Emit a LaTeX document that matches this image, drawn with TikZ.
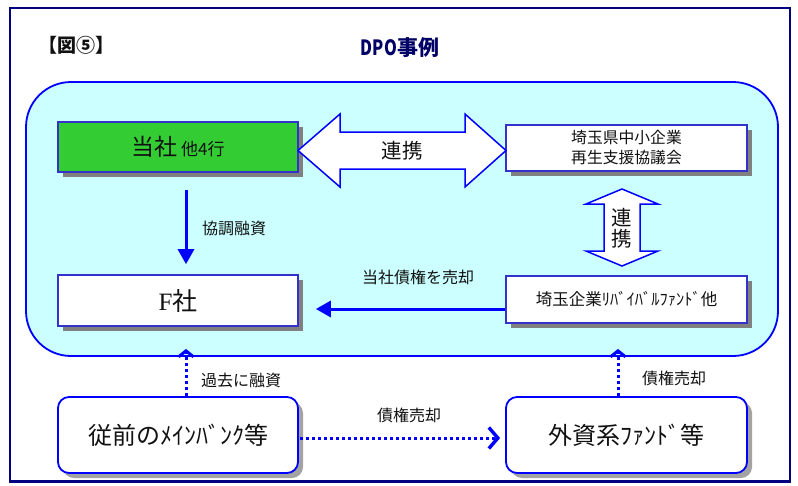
\documentclass[tikz,border=0pt]{standalone}
\usepackage{fontspec}
\setmainfont{Noto Sans CJK JP}
\newfontfamily\serifF{Liberation Serif}
\usetikzlibrary{arrows.meta,shadows}
\definecolor{navy}{HTML}{000080}
\definecolor{titlenavy}{HTML}{000066}
\definecolor{pureblue}{HTML}{0000FF}
\definecolor{boxblue}{HTML}{3333CC}
\definecolor{cyanfill}{HTML}{CCFFFF}
\definecolor{greenfill}{HTML}{33CC33}
\definecolor{txt}{HTML}{111111}
\tikzset{
  sqbox/.style={draw=boxblue, line width=1.6pt, fill=white, minimum width=240pt, inner sep=0pt, text=txt,
    drop shadow={shadow xshift=5pt, shadow yshift=-5pt, fill=black!50, opacity=1}},
  rbox/.style={draw=pureblue, line width=1.8pt, fill=white, rounded corners=11pt, minimum width=240pt, minimum height=76pt,
    inner sep=0pt, text=txt, font=\fontsize{24}{26}\selectfont,
    drop shadow={shadow xshift=5pt, shadow yshift=-5pt, fill=black!45, opacity=0.8}},
  blockarrow/.style={draw=pureblue, line width=1.5pt, fill=white, line join=miter},
  fatarrow/.style={draw=pureblue, line width=3pt, -{Triangle[length=15pt,width=16pt]}},
  dotarrow/.style={draw=pureblue, line width=3pt, dash pattern=on 3pt off 3pt},
  vhead/.style={-{Straight Barb[length=6pt,width=15pt,line width=3pt]}},
  hhead/.style={-{Straight Barb[length=9pt,width=21pt,line width=3.4pt]}},
  lbl/.style={text=txt, font=\fontsize{16}{18}\selectfont, inner sep=0pt},
}
\begin{document}
\begin{tikzpicture}[x=1pt,y=-1pt]
\useasboundingbox (0,0) rectangle (798,485);
\fill[white] (0,0) rectangle (798,485);
% outer frame
\draw[navy, line width=1.3pt] (10,8) rectangle (790,481);
\draw[navy, line width=3pt] (9.4,481) -- (790.6,481);
% title
\node[text=txt, font=\fontsize{19}{21}\selectfont\bfseries, inner sep=0pt] (fig) at (76,45) {【図⑤】};
\node[text=titlenavy, font=\fontsize{21}{23}\selectfont\bfseries, inner sep=0pt] (title) at (400,48) {\scalebox{0.78}[1]{DPO}事例};
% cyan region
\node[draw=pureblue, line width=1.8pt, fill=cyanfill, rounded corners=45pt, minimum width=752pt, minimum height=274pt, inner sep=0pt] (region) at (402,219) {};
% boxes
\node[sqbox, fill=greenfill, minimum height=50pt] (tousha) at (178,147)
  {\fontsize{23}{25}\selectfont 当社\,\fontsize{17}{19}\selectfont 他4行};
\node[sqbox, minimum height=51pt] (fsha) at (178,300.5)
  {\fontsize{25}{27}\selectfont{\serifF F}社};
\node[sqbox, minimum width=241pt, minimum height=46pt, align=center, font=\fontsize{15.8}{20}\selectfont] (kyogi) at (626.5,148)
  {埼玉県中小企業\\再生支援協議会};
\node[sqbox, minimum width=241pt, minimum height=47pt, font=\fontsize{16.5}{18}\selectfont] (fund) at (626.5,299.5)
  {埼玉企業ﾘﾊﾞｲﾊﾞﾙﾌｧﾝﾄﾞ他};
\node[rbox] (juzen) at (178,435) {従前のﾒｲﾝﾊﾞﾝｸ等};
\node[rbox, minimum width=241pt] (gaishi) at (626.5,435) {外資系ﾌｧﾝﾄﾞ等};
% horizontal block double arrow
\draw[blockarrow] (298,150.5) -- (340,114) -- (340,132) -- (465,132) -- (465,114) -- (506,150.5)
  -- (465,187) -- (465,169) -- (340,169) -- (340,187) -- cycle;
\node[text=txt, font=\fontsize{20.5}{22}\selectfont, inner sep=0pt] (renkei1) at (402,151) {連携};
% vertical block double arrow
\draw[blockarrow] (622,189) -- (658,204) -- (640,204) -- (640,251) -- (658,251) -- (622,266)
  -- (586,251) -- (604,251) -- (604,204) -- (586,204) -- cycle;
\node[text=txt, font=\fontsize{20.5}{22}\selectfont, inner sep=0pt, align=center] (renkei2) at (622,228) {連\\[-1pt]携};
% solid arrows
\draw[fatarrow] ([xshift=8pt,yshift=-17pt]tousha.south) -- ([xshift=8pt,yshift=10pt]fsha.north);
\node[lbl] (l1) at (234,228) {協調融資};
\draw[fatarrow] ([yshift=-9.5pt]fund.west) -- ([xshift=17pt,yshift=-8.5pt]fsha.east);
\node[lbl] (l2) at (418,277) {当社債権を売却};
% dotted arrows
\draw[dotarrow] ([xshift=8pt]juzen.north) -- ([xshift=8pt,yshift=5pt]juzen.north |- region.south);
\draw[vhead, draw=pureblue] ([xshift=8pt,yshift=5pt]juzen.north |- region.south) -- ([xshift=8pt,yshift=8pt]juzen.north |- region.south);
\node[lbl] (l3) at (241,380) {過去に融資};
\draw[dotarrow] ([xshift=-8.5pt]gaishi.north) -- ([xshift=-8.5pt,yshift=5pt]gaishi.north |- region.south);
\draw[vhead, draw=pureblue] ([xshift=-8.5pt,yshift=5pt]gaishi.north |- region.south) -- ([xshift=-8.5pt,yshift=8pt]gaishi.north |- region.south);
\node[lbl] (l4) at (674,378) {債権売却};
\draw[dotarrow] ([xshift=1pt,yshift=-3pt]juzen.east) -- ([xshift=-6pt,yshift=-3pt]gaishi.west);
\draw[hhead, draw=pureblue] ([xshift=-8pt,yshift=-3pt]gaishi.west) -- ([xshift=-5pt,yshift=-3pt]gaishi.west);
\node[lbl] (l5) at (409,415) {債権売却};
\end{tikzpicture}
\end{document}
